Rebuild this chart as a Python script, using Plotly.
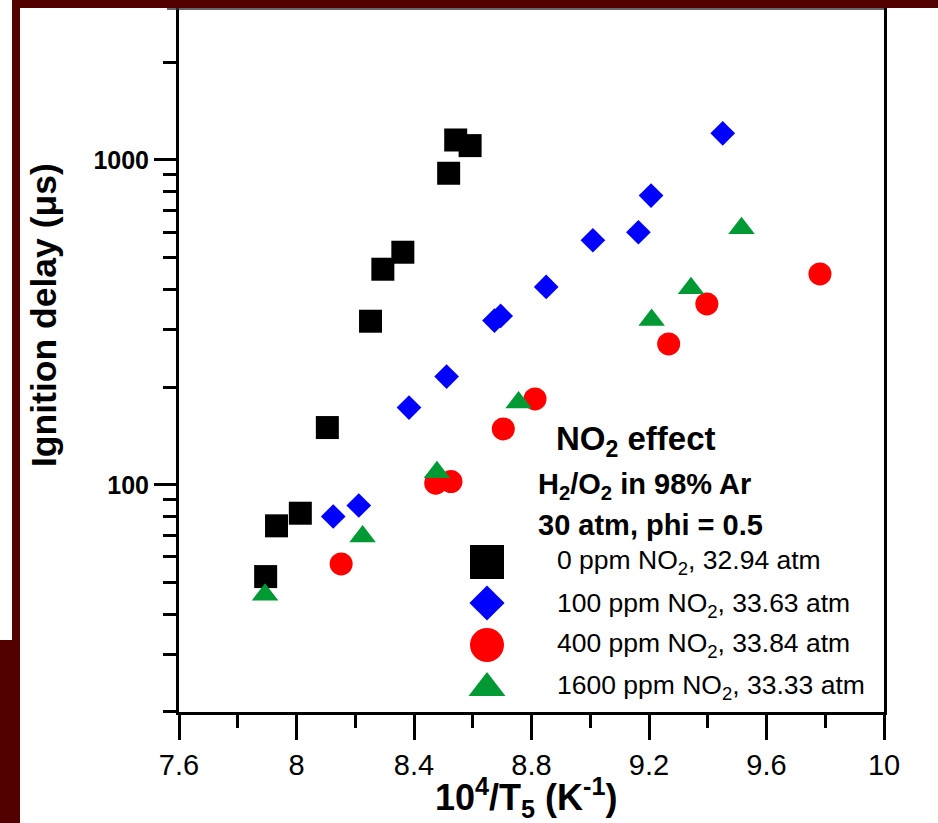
import plotly.graph_objects as go

# ---------------- data ----------------
x_0ppm = [7.895, 7.932, 8.013, 8.105, 8.252, 8.294, 8.362, 8.518, 8.542, 8.591]
y_0ppm = [52.2, 74.8, 81.8, 150.1, 318.9, 461, 520, 910, 1152, 1107]

x_100ppm = [8.125, 8.212, 8.383, 8.511, 8.674, 8.695, 8.850, 9.009, 9.164, 9.207, 9.451]
y_100ppm = [79.9, 86.4, 172.9, 215.4, 320.3, 331.1, 406.7, 566, 599, 776.7, 1208]

x_400ppm = [8.152, 8.474, 8.526, 8.704, 8.812, 9.267, 9.397, 9.782]
y_400ppm = [57.1, 101.2, 102.4, 148.7, 183.9, 271.6, 360.5, 445.9]

x_1600ppm = [7.893, 8.225, 8.478, 8.756, 9.209, 9.343, 9.515]
y_1600ppm = [45.9, 69.4, 109.4, 179.2, 321.9, 402.9, 616.4]

series_labels = [
    "0 ppm NO<sub>2</sub>, 32.94 atm",
    "100 ppm NO<sub>2</sub>, 33.63 atm",
    "400 ppm NO<sub>2</sub>, 33.84 atm",
    "1600 ppm NO<sub>2</sub>, 33.33 atm",
]
x_ticks = [7.6, 8.0, 8.4, 8.8, 9.2, 9.6, 10.0]
x_tick_text = ["7.6", "8", "8.4", "8.8", "9.2", "9.6", "10"]
x_minor = [7.8, 8.2, 8.6, 9.0, 9.4, 9.8]
y_ticks = [100, 1000]
y_tick_text = ["<b>100</b>", "<b>1000</b>"]
y_minor = [20, 30, 40, 50, 60, 70, 80, 90, 200, 300, 400, 500, 600, 700, 800, 900, 2000]

# ---------------- styles ----------------
FONT = "Liberation Sans, Arial, sans-serif"
MAROON = "#520000"
GREEN = "#009933"
W, H = 938, 823
L, R, T, B = 179, 54, 8, 111
PW, PH = W - L - R, H - T - B


def fx(px):
    return (px - L) / PW


def fy(py):
    return (T + PH - py) / PH


styles = [
    dict(symbol="square", color="black", size=23),
    dict(symbol="diamond", color="#0000FF", size=19),
    dict(symbol="circle", color="#FF0000", size=23),
    dict(symbol="triangle-up", color=GREEN, size=23),
]
legend_styles = [
    dict(symbol="square", color="black", size=34),
    dict(symbol="diamond", color="#0000FF", size=27),
    dict(symbol="circle", color="#FF0000", size=34),
    dict(symbol="triangle-up", color=GREEN, size=32),
]
legend_key_px = 487
legend_key_py = [562, 603, 645, 688]
legend_text_px = 555
legend_text_py = [559, 602, 642, 684]

fig = go.Figure()
for xs, ys, st in zip([x_0ppm, x_100ppm, x_400ppm, x_1600ppm],
                      [y_0ppm, y_100ppm, y_400ppm, y_1600ppm], styles):
    fig.add_trace(go.Scatter(
        x=xs, y=ys, mode="markers",
        marker=dict(symbol=st["symbol"], color=st["color"], size=st["size"],
                    line=dict(width=0)),
        showlegend=False, hoverinfo="skip"))

# legend keys on an overlay axis in plot-fraction units
for st, py in zip(legend_styles, legend_key_py):
    fig.add_trace(go.Scatter(
        x=[fx(legend_key_px)], y=[fy(py)], xaxis="x2", yaxis="y2",
        mode="markers",
        marker=dict(symbol=st["symbol"], color=st["color"], size=st["size"],
                    line=dict(width=0)),
        showlegend=False, hoverinfo="skip"))

annotations = []
annotations.append(dict(text="<b>NO<sub>2</sub> effect</b>", x=fx(554), y=fy(441),
                        font=dict(family=FONT, size=33, color="black")))
annotations.append(dict(text="<b>H<sub>2</sub>/O<sub>2</sub> in 98% Ar</b>", x=fx(536), y=fy(486),
                        font=dict(family=FONT, size=29, color="black")))
annotations.append(dict(text="<b>30 atm, phi = 0.5</b>", x=fx(536), y=fy(525),
                        font=dict(family=FONT, size=29, color="black")))
for lab, py in zip(series_labels, legend_text_py):
    annotations.append(dict(text=lab, x=fx(legend_text_px), y=fy(py + 3),
                            font=dict(family=FONT, size=26.5, color="black")))
for a in annotations:
    a.update(xref="paper", yref="paper", xanchor="left", yanchor="middle", showarrow=False)

# axis titles
annotations.append(dict(text="<b>10<sup>4</sup>/T<sub>5</sub> (K<sup>-1</sup>)</b>",
                        x=fx(526), y=fy(797), xref="paper", yref="paper",
                        xanchor="center", yanchor="middle", showarrow=False,
                        font=dict(family=FONT, size=36, color="black")))
annotations.append(dict(text="<b>Ignition delay (μs)</b>",
                        x=fx(44), y=fy(315), xref="paper", yref="paper",
                        xanchor="center", yanchor="middle", showarrow=False, textangle=-90,
                        font=dict(family=FONT, size=35.5, color="black")))

shapes = [
    # maroon slide border
    dict(type="rect", xref="paper", yref="paper", x0=fx(12), x1=fx(W + 2), y0=fy(8), y1=fy(-2),
         fillcolor=MAROON, line=dict(width=0), layer="above"),
    dict(type="rect", xref="paper", yref="paper", x0=fx(12), x1=fx(20), y0=fy(640), y1=fy(-2),
         fillcolor=MAROON, line=dict(width=0), layer="above"),
    dict(type="rect", xref="paper", yref="paper", x0=fx(-2), x1=fx(20), y0=fy(H + 2), y1=fy(640),
         fillcolor=MAROON, line=dict(width=0), layer="above"),
    # thin top frame line
    dict(type="line", xref="paper", yref="paper", x0=fx(167), x1=fx(884), y0=fy(9), y1=fy(9),
         line=dict(color="#333333", width=1.5), layer="above"),
]

fig.update_layout(
    width=W, height=H,
    margin=dict(l=L, r=R, t=T, b=B, pad=0),
    paper_bgcolor="white", plot_bgcolor="white",
    showlegend=False,
    annotations=annotations,
    shapes=shapes,
    xaxis=dict(
        range=[7.6, 10.0], tickmode="array", tickvals=x_ticks, ticktext=x_tick_text,
        ticks="outside", ticklen=25, tickwidth=3, tickcolor="black",
        showline=True, linewidth=3, linecolor="black", mirror=False,
        showgrid=False, zeroline=False,
        tickfont=dict(family=FONT, size=29, color="black"),
        minor=dict(tickmode="array", tickvals=x_minor, ticks="outside", ticklen=13,
                   tickwidth=3, tickcolor="black", showgrid=False),
    ),
    yaxis=dict(
        type="log", range=[1.3009, 3.4677], tickmode="array", tickvals=y_ticks, ticktext=y_tick_text,
        ticks="outside", ticklen=22, tickwidth=3, tickcolor="black",
        showline=True, linewidth=3, linecolor="black", mirror=True,
        showgrid=False, zeroline=False,
        tickfont=dict(family=FONT, size=25, color="black"),
        minor=dict(tickmode="array", tickvals=y_minor, ticks="outside", ticklen=13,
                   tickwidth=3, tickcolor="black", showgrid=False),
    ),
    xaxis2=dict(overlaying="x", range=[0, 1], visible=False, fixedrange=True),
    yaxis2=dict(overlaying="y", range=[0, 1], visible=False, fixedrange=True),
)

fig.write_html("out.html")
